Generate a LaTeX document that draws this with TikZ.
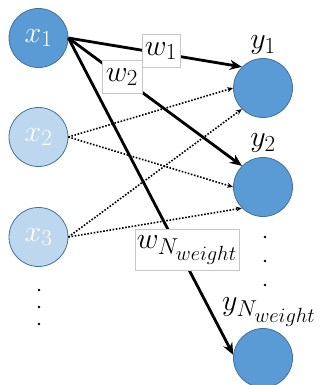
\documentclass[tikz,border=0pt]{standalone}
\usepackage{fix-cm}
\DeclareMathSizes{30}{30}{23}{20.5}
\usetikzlibrary{arrows.meta, positioning}
\definecolor{unitblue}{RGB}{91,155,213}
\definecolor{unitlight}{RGB}{189,215,238}
\definecolor{unitedge}{RGB}{65,113,156}
\tikzset{
  neuron/.style={circle, draw=unitedge, line width=0.8pt, minimum size=59pt, inner sep=0pt, text=white},
  wbox/.style={draw=black!22, fill=white, line width=0.8pt, inner sep=0pt},
  strong/.style={line width=2.8pt, -{Stealth[length=12pt,width=10pt]}},
  weak/.style={line width=1.6pt, dash pattern=on 1.6pt off 1.6pt, -{Stealth[length=6pt,width=5pt]}},
  bigmath/.style={font=\fontsize{30}{32}\selectfont}
}

\begin{document}
\begin{tikzpicture}[x=1pt, y=-1pt, every node/.style={bigmath}]
  \useasboundingbox (0,0) rectangle (323,385);
  % input units
  \node[neuron, fill=unitblue] (x1) at (38.5,38) {$x_1$};
  \node[neuron, fill=unitlight] (x2) at (38.5,137) {$x_2$};
  \node[neuron, fill=unitlight] (x3) at (38.5,237) {$x_3$};
  % output units
  \node[neuron, fill=unitblue] (y1) at (263,88) {};
  \node[neuron, fill=unitblue] (y2) at (263,187) {};
  \node[neuron, fill=unitblue] (yN) at (263,358) {};
  \node (ly1) at (263,45) {$y_1$};
  \node (ly2) at (263,143) {$y_2$};
  \node (lyN) at (269,312) {$y_{N_{weight}}$};
  % dots
  \foreach \i/\yy in {1/290, 2/307, 3/324}
    \node[circle, fill=black, inner sep=0pt, minimum size=2.6pt] (ldot\i) at (39,\yy) {};
  \foreach \i/\yy in {1/237, 2/261, 3/285}
    \node[circle, fill=black, inner sep=0pt, minimum size=2.6pt] (rdot\i) at (265,\yy) {};
  % connections
  \draw[weak] (x2.east) -- (y1.west);
  \draw[weak] (x2.east) -- (y2.west);
  \draw[weak] (x3.east) -- (y1.225);
  \draw[weak] (x3.east) -- (y2.225);
  \draw[strong] (x1.east) -- (y1.135);
  \draw[strong] (x1.east) -- (y2.135);
  \draw[strong] (x1.east) -- (yN.174);
  % weights
  \node[wbox, minimum width=38pt, minimum height=33pt] (w1) at (161,51) {$w_1$};
  \node[wbox, minimum width=40pt, minimum height=33pt] (w2) at (122,77) {$w_2$};
  \node[wbox, minimum width=104pt, minimum height=41pt] (wN) at (187,250) {$w_{N_{weight}}$};
\end{tikzpicture}
\end{document}
